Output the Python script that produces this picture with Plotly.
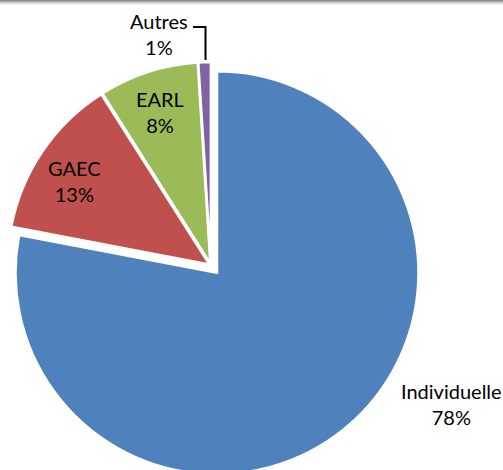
import plotly.graph_objects as go

labels = ["Individuelle", "GAEC", "EARL", "Autres"]
values = [78, 13, 8, 1]
colors = ["#4F81BD", "#C0504D", "#9BBB59", "#8064A2"]
pulls = [0.047, 0.01, 0.01, 0.01]
# label centres (pixels from top-left of the chart)
label_pos = [(451, 404), (74, 181), (160, 112), (159, 34)]

W, H = 503, 480
FONT = "Lato"
R = 201.5
mp = max(pulls)
half = R * (1 + mp)
cx, cy = half, 265.5

fig = go.Figure(go.Pie(
    labels=labels,
    values=values,
    sort=False,
    direction="clockwise",
    rotation=0,
    pull=pulls,
    marker=dict(colors=colors, line=dict(color="white", width=2.5)),
    textinfo="none",
    domain=dict(x=[0, 2 * half / W], y=[(H - (cy + half)) / H, (H - (cy - half)) / H]),
    hoverinfo="label+percent",
))

for lab, val, (px, py) in zip(labels, values, label_pos):
    fig.add_annotation(x=px / W, y=1 - py / H, xref="paper", yref="paper",
                       xanchor="center", yanchor="middle",
                       text=f"{lab}<br>{val}%", showarrow=False,
                       font=dict(family=FONT, size=20, color="black"), align="center")

# leader line for Autres
fig.add_shape(type="path", xref="paper", yref="paper",
              path=f"M {193/W},{1-27/H} L {205.5/W},{1-27/H} L {205.5/W},{1-60/H}",
              line=dict(color="black", width=2))

# top shadow
for i, c in enumerate(["#8a8a8a", "#a8a8a8", "#c8c8c8", "#e2e2e2", "#f2f2f2"]):
    fig.add_shape(type="rect", xref="paper", yref="paper",
                  x0=0, x1=1, y0=1 - i / H, y1=1 - (i + 1) / H,
                  line=dict(width=0), fillcolor=c, layer="above")

fig.update_layout(
    width=W, height=H,
    margin=dict(l=0, r=0, t=0, b=0),
    showlegend=False,
    paper_bgcolor="white",
    plot_bgcolor="white",
)

fig.write_html("out.html", config={"displayModeBar": False},
               post_script="document.body.style.margin='0';document.body.style.overflow='hidden';")
